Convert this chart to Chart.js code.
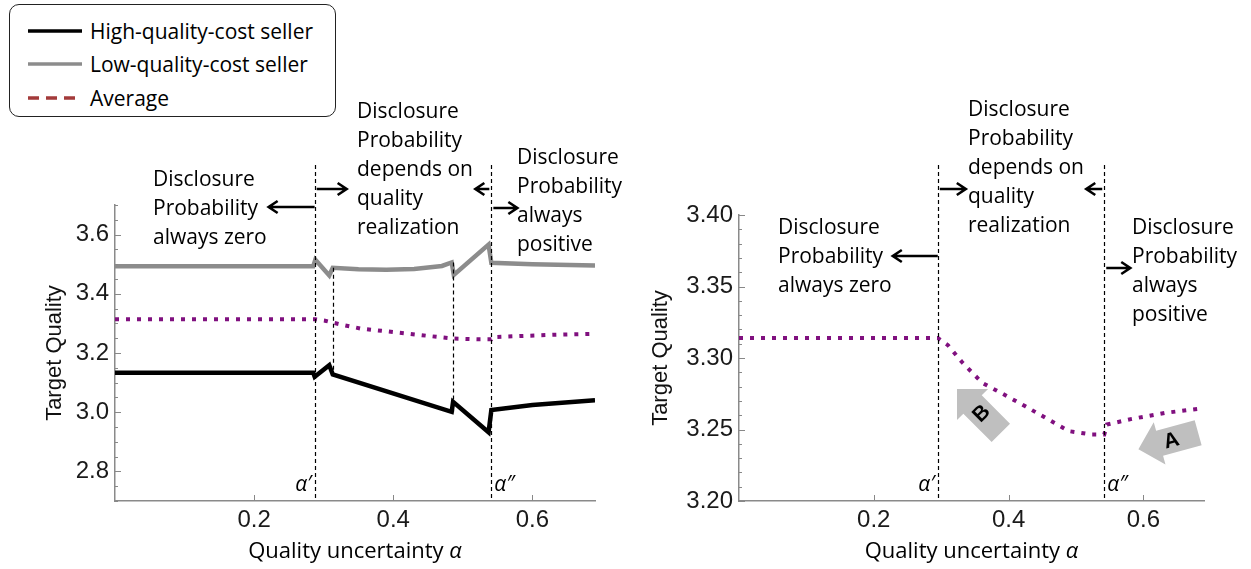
<!DOCTYPE html>
<html>
<head>
<meta charset="utf-8">
<script src="https://cdn.jsdelivr.net/npm/chart.js@4.4.1/dist/chart.umd.min.js"></script>
<style>
  body { margin: 0; background: #fff; width: 1251px; height: 569px; position: relative; overflow: hidden; font-family: 'Open Sans', sans-serif; color: #000; }
  #left { position: absolute; left: 0; top: 0; }
  #right { position: absolute; left: 625px; top: 0; }
  #legend { position: absolute; left: 9px; top: 4px; width: 325px; height: 111px; border: 1.5px solid #222; border-radius: 10px; background: #fff; z-index: 2; }
  #legend .item { position: absolute; left: 18px; height: 28px; display: flex; align-items: center; font-size: 21px; }
  #legend svg { margin-right: 8px; }
</style>
</head>
<body>
<canvas id="left" width="625" height="569"></canvas>
<canvas id="right" width="626" height="569"></canvas>
<div id="legend">
  <div class="item" style="top:12px"><svg width="54" height="6"><line x1="0" y1="3" x2="54" y2="3" stroke="#000" stroke-width="3.5"/></svg><span>High-quality-cost seller</span></div>
  <div class="item" style="top:45px"><svg width="54" height="6"><line x1="0" y1="3" x2="54" y2="3" stroke="#8c8c8c" stroke-width="3.5"/></svg><span>Low-quality-cost seller</span></div>
  <div class="item" style="top:79px"><svg width="54" height="6"><line x1="0" y1="3" x2="54" y2="3" stroke="#a33a3a" stroke-width="3.5" stroke-dasharray="11 7"/></svg><span>Average</span></div>
</div>
<script>
// Quality uncertainty (x) and target quality (y), left panel
const leftHighX = [0, 0.285, 0.287, 0.308, 0.313, 0.484, 0.486, 0.537, 0.541, 0.6, 0.69];
const leftHighY = [3.133, 3.133, 3.12, 3.159, 3.128, 3.001, 3.035, 2.932, 3.007, 3.024, 3.04];
const leftLowX = [0, 0.285, 0.288, 0.308, 0.313, 0.35, 0.39, 0.43, 0.47, 0.484, 0.487, 0.537, 0.541, 0.6, 0.69];
const leftLowY = [3.493, 3.493, 3.515, 3.462, 3.488, 3.483, 3.481, 3.484, 3.494, 3.506, 3.464, 3.566, 3.505, 3.5, 3.496];
const leftAvgX = [0, 0.287, 0.302, 0.324, 0.353, 0.383, 0.418, 0.449, 0.486, 0.521, 0.541, 0.543, 0.582, 0.631, 0.69];
// right panel (zoom on the average)
const rightAvgX = [0, 0.295, 0.31, 0.332, 0.361, 0.391, 0.425, 0.455, 0.49, 0.524, 0.542, 0.546, 0.583, 0.632, 0.69];
const avgY = [3.314, 3.314, 3.309, 3.2965, 3.2826, 3.275, 3.2662, 3.2581, 3.2488, 3.2465, 3.2465, 3.2535, 3.2574, 3.2616, 3.265];

const xTicks = [0.2, 0.4, 0.6];
const leftYTicks = [2.8, 3.0, 3.2, 3.4, 3.6];
const rightYTicks = [3.20, 3.25, 3.30, 3.35, 3.40];
const leftCuts = [0.287, 0.541];   // alpha' and alpha''
const leftInner = [0.313, 0.486];
const rightCuts = [0.295, 0.542];

const pts = (xs, ys) => xs.map((x, i) => ({ x: x, y: ys[i] }));

const TEXT_FONT = '21px "Open Sans"';

function arrow(ctx, x1, y, x2) {
  const d = Math.sign(x2 - x1);
  ctx.beginPath();
  ctx.moveTo(x1, y); ctx.lineTo(x2, y);
  ctx.moveTo(x2 - d * 9, y - 6); ctx.lineTo(x2, y); ctx.lineTo(x2 - d * 9, y + 6);
  ctx.stroke();
}

function blockArrow(ctx, cx, cy, ang, label, labelAng) {
  const L = 62, bw = 26, hw = 44, hl = 22;
  ctx.save();
  ctx.translate(cx, cy);
  ctx.rotate(ang);
  ctx.beginPath();
  ctx.moveTo(-L / 2, -bw / 2); ctx.lineTo(L / 2 - hl, -bw / 2); ctx.lineTo(L / 2 - hl, -hw / 2);
  ctx.lineTo(L / 2, 0); ctx.lineTo(L / 2 - hl, hw / 2); ctx.lineTo(L / 2 - hl, bw / 2);
  ctx.lineTo(-L / 2, bw / 2); ctx.closePath();
  ctx.fillStyle = '#bfbfbf';
  ctx.fill();
  ctx.restore();
  ctx.save();
  ctx.translate(cx + 3 * Math.cos(ang + Math.PI), cy + 3 * Math.sin(ang + Math.PI));
  ctx.rotate(labelAng);
  ctx.fillStyle = '#000';
  ctx.font = 'bold 21px "Liberation Sans"';
  ctx.textAlign = 'center'; ctx.textBaseline = 'middle';
  ctx.fillText(label, 0, 1);
  ctx.restore();
}

const notesPlugin = {
  id: 'panelNotes',
  afterDraw(chart, args, o) {
    const ctx = chart.ctx, xs = chart.scales.x, ys = chart.scales.y, a = chart.chartArea;
    ctx.save();
    // inward tick marks (major and minor)
    ctx.strokeStyle = '#888'; ctx.lineWidth = 1;
    ctx.beginPath();
    for (let v = ys.min; v <= ys.max + 1e-9; v += o.minorY) {
      const p = Math.round(ys.getPixelForValue(v)) + 0.5;
      const major = ys.ticks.some(t => Math.abs(t.value - v) < 1e-6);
      ctx.moveTo(a.left, p); ctx.lineTo(a.left + (major ? 6 : 3), p);
    }
    xTicks.forEach(v => {
      const p = Math.round(xs.getPixelForValue(v)) + 0.5;
      ctx.moveTo(p, a.bottom); ctx.lineTo(p, a.bottom - 6);
    });
    ctx.stroke();

    // dashed region boundaries
    ctx.strokeStyle = '#000'; ctx.lineWidth = 1.2; ctx.setLineDash([4, 3]);
    o.vlines.forEach(v => {
      const px = Math.round(xs.getPixelForValue(v.x)) + 0.5;
      const top = v.yTop !== undefined ? ys.getPixelForValue(v.yTop) : v.top;
      const bot = v.yBottom !== undefined ? ys.getPixelForValue(v.yBottom) : a.bottom;
      ctx.beginPath(); ctx.moveTo(px, top); ctx.lineTo(px, bot); ctx.stroke();
    });
    ctx.setLineDash([]);

    // small arrows off the boundaries
    ctx.strokeStyle = '#000'; ctx.lineWidth = 2.6; ctx.lineJoin = 'miter';
    o.arrows.forEach(r => {
      const px = xs.getPixelForValue(r.x) + r.gap;
      arrow(ctx, px, r.y, px + r.len);
    });

    // region texts
    ctx.fillStyle = '#000'; ctx.font = TEXT_FONT;
    ctx.textAlign = 'left'; ctx.textBaseline = 'middle';
    o.texts.forEach(t => t.lines.forEach((s, i) => ctx.fillText(s, t.x, t.y + i * 29)));

    // alpha' and alpha'' labels
    ctx.font = 'italic 21px "Open Sans"';
    const yl = a.bottom - 16;
    ctx.textAlign = 'right';
    ctx.fillText('\u03b1\u2032', xs.getPixelForValue(o.cuts[0]) - 3, yl);
    ctx.textAlign = 'left';
    ctx.fillText('\u03b1\u2033', xs.getPixelForValue(o.cuts[1]) + 3, yl);

    // x axis title with italic alpha
    const XF = '22px "Open Sans"';
    const t1 = 'Quality uncertainty ', t2 = '\u03b1';
    ctx.font = XF; const w1 = ctx.measureText(t1).width;
    ctx.font = 'italic ' + XF; const w2 = ctx.measureText(t2).width;
    const x0 = (a.left + a.right) / 2 - (w1 + w2) / 2, ty = 552;
    ctx.fillText(t2, x0 + w1, ty);
    ctx.font = XF; ctx.fillText(t1, x0, ty);

    // gray block arrows
    (o.blocks || []).forEach(b => blockArrow(ctx, xs.getPixelForValue(b.x), ys.getPixelForValue(b.y), b.ang, b.label, b.labelAng));
    ctx.restore();
  }
};

function axisOpts(min, max, ticks, digits, width, height, isX) {
  return {
    type: 'linear', min: min, max: max,
    afterBuildTicks: s => { s.ticks = ticks.map(v => ({ value: v })); },
    afterFit: s => { if (isX) s.height = height; else s.width = width; },
    grid: { display: false, drawTicks: false },
    border: { display: true, color: '#8a8a8a', width: 1.5 },
    ticks: { font: { family: 'Liberation Sans', size: 24 }, color: '#1a1a1a', padding: isX ? 5 : 6, callback: v => Number(v).toFixed(digits) },
    title: isX ? { display: false } : { display: true, text: 'Target Quality', font: { family: 'Liberation Sans', size: 22 }, color: '#111' }
  };
}

const lineStyle = {
  high: { borderColor: '#000', borderWidth: 4.5 },
  low: { borderColor: '#8c8c8c', borderWidth: 4.5 },
  avg: { borderColor: '#80107f', borderWidth: 4, borderDash: [4, 7] }
};

new Chart(document.getElementById('left'), {
  type: 'line',
  data: {
    datasets: [
      Object.assign({ label: 'High-quality-cost seller', data: pts(leftHighX, leftHighY) }, lineStyle.high),
      Object.assign({ label: 'Low-quality-cost seller', data: pts(leftLowX, leftLowY) }, lineStyle.low),
      Object.assign({ label: 'Average', data: pts(leftAvgX, avgY) }, lineStyle.avg)
    ]
  },
  options: {
    responsive: false, animation: false,
    layout: { padding: { left: 38, top: 205, right: 30, bottom: 0 } },
    elements: { point: { radius: 0 }, line: { tension: 0, borderJoinStyle: 'miter' } },
    plugins: {
      legend: { display: false }, tooltip: { enabled: false },
      panelNotes: {
        minorY: 0.05,
        cuts: leftCuts,
        vlines: [
          { x: leftCuts[0], top: 165 }, { x: leftCuts[1], top: 165 },
          { x: leftInner[0], yTop: 3.488, yBottom: 3.11 }, { x: leftInner[1], yTop: 3.506, yBottom: 3.0 }
        ],
        arrows: [
          { x: leftCuts[0], gap: 0, len: -46, y: 207 },
          { x: leftCuts[0], gap: 2, len: 30, y: 189 },
          { x: leftCuts[1], gap: -2, len: -14, y: 189 },
          { x: leftCuts[1], gap: 2, len: 24, y: 208 }
        ],
        texts: [
          { x: 153, y: 180, lines: ['Disclosure', 'Probability', 'always zero'] },
          { x: 357, y: 112, lines: ['Disclosure', 'Probability', 'depends on', 'quality', 'realization'] },
          { x: 517, y: 158, lines: ['Disclosure', 'Probability', 'always', 'positive'] }
        ]
      }
    },
    scales: {
      x: axisOpts(0, 0.69, xTicks, 1, 0, 68, true),
      y: axisOpts(2.7, 3.7, leftYTicks, 1, 77, 0, false)
    }
  },
  plugins: [notesPlugin]
});

new Chart(document.getElementById('right'), {
  type: 'line',
  data: {
    datasets: [
      Object.assign({ label: 'Average', data: pts(rightAvgX, avgY) }, lineStyle.avg)
    ]
  },
  options: {
    responsive: false, animation: false,
    layout: { padding: { left: 19, top: 215, right: 47, bottom: 0 } },
    elements: { point: { radius: 0 }, line: { tension: 0, borderJoinStyle: 'miter' } },
    plugins: {
      legend: { display: false }, tooltip: { enabled: false },
      panelNotes: {
        minorY: 0.01,
        cuts: rightCuts,
        vlines: [{ x: rightCuts[0], top: 165 }, { x: rightCuts[1], top: 165 }],
        arrows: [
          { x: rightCuts[0], gap: 0, len: -45, y: 256 },
          { x: rightCuts[0], gap: 2, len: 26, y: 189 },
          { x: rightCuts[1], gap: -2, len: -16, y: 189 },
          { x: rightCuts[1], gap: 2, len: 24, y: 268 }
        ],
        texts: [
          { x: 153, y: 228, lines: ['Disclosure', 'Probability', 'always zero'] },
          { x: 343, y: 110, lines: ['Disclosure', 'Probability', 'depends on', 'quality', 'realization'] },
          { x: 507, y: 228, lines: ['Disclosure', 'Probability', 'always', 'positive'] }
        ],
        blocks: [
          { x: 0.356, y: 3.263, ang: -3 * Math.PI / 4, label: 'B', labelAng: -Math.PI / 4 },
          { x: 0.637, y: 3.242, ang: Math.PI - 0.27, label: 'A', labelAng: -0.27 }
        ]
      }
    },
    scales: {
      x: axisOpts(0, 0.69, xTicks, 1, 0, 68, true),
      y: axisOpts(3.2, 3.4, rightYTicks, 2, 95, 0, false)
    }
  },
  plugins: [notesPlugin]
});
</script>
</body>
</html>
